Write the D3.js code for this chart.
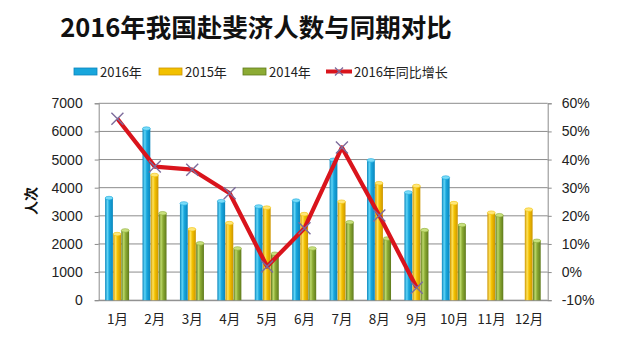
<!DOCTYPE html>
<html>
<head>
<meta charset="utf-8">
<script src="https://cdn.jsdelivr.net/npm/d3@7"></script>
<style>
  html, body { margin: 0; padding: 0; background: #fff; }
  svg { display: block; font-family: "Noto Sans", "Noto Sans CJK SC", sans-serif; }
</style>
</head>
<body>
<svg id="chart" width="619" height="340"></svg>
<script>
// Monthly visitor counts to Fiji, three years, plus 2016 year-on-year growth (%)
const months = ["1月","2月","3月","4月","5月","6月","7月","8月","9月","10月","11月","12月"];
const series = ["2016年","2015年","2014年"];
const v2016 = [3630, 6100, 3440, 3520, 3330, 3540, 4990, 4970, 3830, 4360, null, null];
const v2015 = [2350, 4450, 2520, 2740, 3290, 3060, 3500, 4160, 4060, 3450, 3110, 3220];
const v2014 = [2480, 3090, 2020, 1840, 1650, 1840, 2770, 2190, 2490, 2670, 3020, 2110];
const growth = [54.5, 37.5, 36.4, 28.0, 2.0, 15.6, 44.3, 20.1, -5.6, null, null, null];
const leftTicks = [0, 1000, 2000, 3000, 4000, 5000, 6000, 7000];
const rightTicks = [-10, 0, 10, 20, 30, 40, 50, 60];

const values = [v2016, v2015, v2014];
const palette = [
  { dark: "#0a86bd", mid: "#18a6dc", light: "#5fd4f6", cap: "#7adcf8" },
  { dark: "#cc9500", mid: "#f2c000", light: "#ffe25a", cap: "#ffe77a" },
  { dark: "#5f7a1c", mid: "#8cab34", light: "#bcd86a", cap: "#c8e07e" }
];
const lineColor = "#d9141c";
const markerColor = "#7d6c9c";

const svg = d3.select("#chart");
const plotL = 98.7, plotR = 547.7, plotT = 103.3, plotB = 300.2;

const x = d3.scaleBand().domain(months).range([plotL, plotR]).padding(0);
const xs = d3.scaleBand().domain(series).range([-12.3, 11.7]).paddingInner(0.04);
const y = d3.scaleLinear().domain([0, 7000]).range([plotB, plotT]);
const y2 = d3.scaleLinear().domain([-10, 60]).range([plotB, plotT]);

// cylinder shading
const defs = svg.append("defs");
palette.forEach((p, i) => {
  const g = defs.append("linearGradient").attr("id", "cyl" + i)
    .attr("x1", "0%").attr("x2", "100%").attr("y1", "0%").attr("y2", "0%");
  g.append("stop").attr("offset", "0%").attr("stop-color", p.dark);
  g.append("stop").attr("offset", "30%").attr("stop-color", p.light);
  g.append("stop").attr("offset", "55%").attr("stop-color", p.mid);
  g.append("stop").attr("offset", "100%").attr("stop-color", p.dark);
});

// title
svg.append("text")
  .attr("x", 256).attr("y", 37)
  .attr("text-anchor", "middle")
  .attr("font-family", "'Noto Sans CJK SC', sans-serif")
  .attr("font-weight", "bold")
  .attr("font-size", 25.5)
  .attr("fill", "#111")
  .text("2016年我国赴斐济人数与同期对比");

// legend
const legendItems = [
  { type: "bar", i: 0, x: 74, tx: 100 },
  { type: "bar", i: 1, x: 159, tx: 185 },
  { type: "bar", i: 2, x: 243, tx: 269 },
  { type: "line", x: 326, tx: 354, label: "2016年同比增长" }
];
const lg = svg.append("g").attr("font-family", "'Noto Sans CJK SC', sans-serif").attr("font-size", 13);
legendItems.forEach(d => {
  if (d.type === "bar") {
    lg.append("rect").attr("x", d.x).attr("y", 68).attr("width", 23).attr("height", 7)
      .attr("fill", palette[d.i].mid).attr("stroke", palette[d.i].dark).attr("stroke-width", 0.8);
    lg.append("text").attr("x", d.tx).attr("y", 76.5).attr("fill", "#222").text(series[d.i]);
  } else {
    lg.append("line").attr("x1", d.x).attr("x2", d.x + 26).attr("y1", 71.5).attr("y2", 71.5)
      .attr("stroke", lineColor).attr("stroke-width", 4);
    const mx = d.x + 13;
    lg.append("path").attr("d", `M${mx-4},${71.5-4}L${mx+4},${71.5+4}M${mx-4},${71.5+4}L${mx+4},${71.5-4}`)
      .attr("stroke", markerColor).attr("stroke-width", 1.3);
    lg.append("text").attr("x", d.tx).attr("y", 76.5).attr("fill", "#222").text(d.label);
  }
});

// gridlines
svg.append("g").selectAll("line").data(leftTicks).join("line")
  .attr("x1", plotL).attr("x2", plotR)
  .attr("y1", d => y(d)).attr("y2", d => y(d))
  .attr("stroke", "#8c8c8c").attr("stroke-width", 1);

// left axis
const yAxis = d3.axisLeft(y).tickValues(leftTicks).tickSize(4).tickPadding(12)
  .tickFormat(d3.format("d"));
const ga = svg.append("g").attr("transform", `translate(${plotL},0)`).call(yAxis);
ga.select(".domain").attr("stroke", "#8c8c8c");
ga.selectAll(".tick line").attr("stroke", "#8c8c8c");
ga.selectAll("text").attr("font-size", 14).attr("fill", "#222");

// right axis
const y2Axis = d3.axisRight(y2).tickValues(rightTicks).tickSize(4).tickPadding(10)
  .tickFormat(d => d + "%");
const gb = svg.append("g").attr("transform", `translate(${plotR},0)`).call(y2Axis);
gb.select(".domain").attr("stroke", "#8c8c8c");
gb.selectAll(".tick line").attr("stroke", "#8c8c8c");
gb.selectAll("text").attr("font-size", 14).attr("fill", "#222");

// bottom axis labels
const xAxis = d3.axisBottom(x).tickSize(0).tickPadding(14);
const gx = svg.append("g").attr("transform", `translate(0,${plotB})`).call(xAxis);
gx.select(".domain").attr("stroke", "#8c8c8c");
gx.selectAll("text").attr("font-size", 13.5).attr("fill", "#222")
  .attr("font-family", "'Noto Sans CJK SC', sans-serif");

// y title
svg.append("text")
  .attr("transform", "translate(36,201) rotate(-90)")
  .attr("text-anchor", "middle")
  .attr("font-family", "'Noto Sans CJK SC', sans-serif")
  .attr("font-weight", "bold").attr("font-size", 14).attr("fill", "#111")
  .text("人次");

// cylinder bars
const barData = [];
values.forEach((arr, si) => arr.forEach((v, mi) => {
  if (v != null) barData.push({ s: si, m: months[mi], v });
}));
const bw = xs.bandwidth();
const bars = svg.append("g").selectAll("g").data(barData).join("g");
bars.append("rect")
  .attr("x", d => x(d.m) + x.bandwidth() / 2 + xs(series[d.s]))
  .attr("y", d => y(d.v))
  .attr("width", bw)
  .attr("height", d => plotB - y(d.v))
  .attr("fill", d => `url(#cyl${d.s})`);
bars.append("ellipse")
  .attr("cx", d => x(d.m) + x.bandwidth() / 2 + xs(series[d.s]) + bw / 2)
  .attr("cy", d => y(d.v))
  .attr("rx", bw / 2).attr("ry", 1.8)
  .attr("fill", d => palette[d.s].cap)
  .attr("stroke", d => palette[d.s].mid).attr("stroke-width", 0.6);

// growth line
const pts = growth.map((g, i) => ({ m: months[i], g })).filter(d => d.g != null);
const midX = d => x(d.m) + x.bandwidth() / 2;
svg.append("path").datum(pts)
  .attr("d", d3.line().x(midX).y(d => y2(d.g)))
  .attr("fill", "none").attr("stroke", lineColor).attr("stroke-width", 4.2)
  .attr("stroke-linejoin", "round");
svg.append("g").selectAll("path").data(pts).join("path")
  .attr("d", d => {
    const px = midX(d), py = y2(d.g), r = 6;
    return `M${px-r},${py-r}L${px+r},${py+r}M${px-r},${py+r}L${px+r},${py-r}`;
  })
  .attr("stroke", markerColor).attr("stroke-width", 1.4).attr("fill", "none");
</script>
</body>
</html>
